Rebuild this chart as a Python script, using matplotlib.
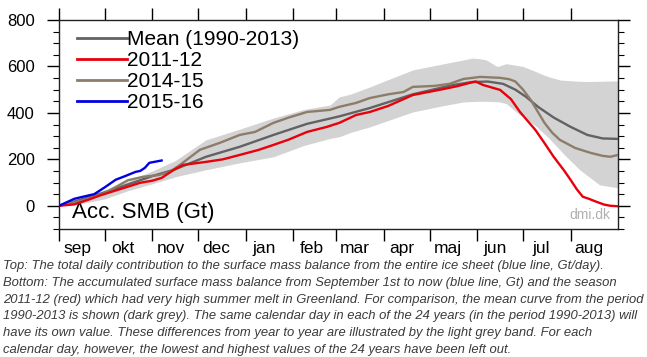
import matplotlib
matplotlib.use("Agg")
import matplotlib.pyplot as plt
from matplotlib.ticker import MultipleLocator

plt.rcParams['font.family'] = ['Liberation Sans', 'DejaVu Sans']

# ---------------- data (day index from Sep 1st, accumulated SMB in Gt) ----------------
months = ["sep", "okt", "nov", "dec", "jan", "feb", "mar", "apr", "maj", "jun", "jul", "aug"]
month_start = [0, 30, 61, 91, 122, 153, 181, 212, 242, 273, 303, 334]

mean_days = [0, 15, 30, 45, 61, 75, 96, 118, 140, 162, 183, 203, 231, 257, 270, 280, 290, 298,
             305, 313, 323, 334, 345, 355, 365]
mean_vals = [0, 28, 58, 92, 128, 155, 211, 254, 305, 353, 385, 421, 480, 520, 533, 535, 525, 500,
             469, 425, 380, 340, 305, 290, 288]

red_days = [0, 10, 20, 27, 40, 53, 61, 67, 75, 81, 96, 107, 118, 130, 140, 150, 162, 175, 183, 194,
            203, 215, 231, 249, 260, 268, 272, 277, 288, 295, 301, 311, 317, 323, 330, 334, 338,
            342, 346, 351, 356, 360, 365]
red_vals = [0, 6, 28, 45, 72, 99, 108, 120, 155, 176, 189, 200, 219, 240, 262, 285, 318, 340, 357, 391,
            404, 430, 477, 500, 515, 529, 535, 520, 499, 460, 404, 327, 270, 211, 150, 112, 72,
            39, 30, 17, 5, 0, -2]

brown_days = [0, 15, 30, 45, 55, 65, 72, 79, 92, 105, 118, 128, 140, 150, 162, 177, 183, 194, 203,
              215, 225, 231, 245, 255, 264, 275, 288, 294, 298, 303, 308, 317, 322, 327, 337, 347,
              355, 360, 365]
brown_vals = [0, 22, 55, 110, 125, 132, 145, 176, 241, 271, 305, 318, 357, 380, 404, 413, 426, 443, 464,
              480, 490, 512, 516, 525, 546, 555, 551, 545, 535, 500, 456, 357, 315, 284, 249, 228,
              215, 211, 219]

blue_days = [0, 5, 10, 15, 23, 30, 37, 44, 50, 53, 56, 59, 63, 67]
blue_vals = [0, 15, 30, 38, 50, 80, 112, 130, 146, 150, 163, 185, 190, 195]

band_days = [0, 15, 30, 45, 61, 76, 96, 118, 140, 160, 177, 183, 190, 203, 231, 250, 264, 270, 275,
             279, 286, 288, 292, 301, 303, 312, 314, 320, 327, 330, 340, 345, 353, 365]
band_upper = [0, 30, 70, 105, 150, 195, 284, 330, 378, 415, 434, 469, 480, 512, 585, 610, 628, 636, 633,
              628, 600, 603, 612, 602, 600, 576, 570, 555, 542, 540, 536, 535, 536, 538]
band_lower = [0, 10, 30, 65, 95, 125, 155, 185, 211, 260, 290, 297, 315, 340, 404, 430, 447, 449, 450,
              450, 448, 447, 440, 391, 385, 340, 327, 290, 241, 220, 155, 130, 90, 77]

labels = ["Mean (1990-2013)", "2011-12", "2014-15", "2015-16"]
colors = ["#626262", "#e8000b", "#8c7d6a", "#0000e0"]
band_color = "#d3d3d3"

# ---------------- figure ----------------
W, H = 647, 357
fig = plt.figure(figsize=(W / 100, H / 100), dpi=100)
ax = fig.add_axes([59 / W, 1 - 229 / H, (618 - 59) / W, (229 - 20) / H])

ax.fill_between(band_days, band_lower, band_upper, color=band_color, lw=0, zorder=1)
l_mean, = ax.plot(mean_days, mean_vals, color=colors[0], lw=1.7, zorder=3)
l_brown, = ax.plot(brown_days, brown_vals, color=colors[2], lw=1.7, zorder=4)
l_red, = ax.plot(red_days, red_vals, color=colors[1], lw=1.7, zorder=5)
l_blue, = ax.plot(blue_days, blue_vals, color=colors[3], lw=1.7, zorder=6)

ax.set_xlim(0, 365)
ax.set_ylim(-100, 800)

# y ticks
ax.set_yticks([0, 200, 400, 600, 800])
ax.yaxis.set_minor_locator(MultipleLocator(50))
ax.tick_params(axis='y', which='major', direction='out', length=8.6, width=1,
               left=True, right=True, labelleft=True, labelright=False,
               labelsize=12, pad=9)
ax.tick_params(axis='y', which='minor', direction='out', length=4.3, width=0.8,
               left=True, right=True)

# x ticks: month boundaries (marks), month names (labels)
ax.set_xticks(month_start, labels=[""] * len(month_start))
ax.set_xticks([m + 12 for m in month_start], labels=months, minor=True)
ax.tick_params(axis='x', which='major', direction='out', length=8.6, width=1,
               top=True, bottom=True)
ax.tick_params(axis='x', which='minor', length=0, labelsize=12.5, pad=8.5,
               top=False, bottom=True)

for s in ax.spines.values():
    s.set_linewidth(1.0)
    s.set_color("#222222")

leg = ax.legend([l_mean, l_red, l_brown, l_blue], labels, loc='upper left',
                bbox_to_anchor=(0.032, 0.952), frameon=False, fontsize=15,
                handlelength=2.4, handletextpad=0.0, labelspacing=0.1,
                borderpad=0, borderaxespad=0)
for h in leg.get_lines():
    h.set_linewidth(2.0)

ax.text(0.023, 0.08, "Acc. SMB (Gt)", transform=ax.transAxes, fontsize=16,
        va='center', ha='left', color='black')
ax.text(0.986, 0.067, "dmi.dk", transform=ax.transAxes, fontsize=10,
        va='center', ha='right', color='#b0b0b0')

caption = [
    "Top: The total daily contribution to the surface mass balance from the entire ice sheet (blue line, Gt/day).",
    "Bottom: The accumulated surface mass balance from September 1st to now (blue line, Gt) and the season",
    "2011-12 (red) which had very high summer melt in Greenland. For comparison, the mean curve from the period",
    "1990-2013 is shown (dark grey). The same calendar day in each of the 24 years (in the period 1990-2013) will",
    "have its own value. These differences from year to year are illustrated by the light grey band. For each",
    "calendar day, however, the lowest and highest values of the 24 years have been left out.",
]
for i, line in enumerate(caption):
    fig.text(3 / W, 1 - (266 + i * 16.8) / H, line, fontsize=9.4, style='italic',
             color='#3a3a3a', va='center', ha='left')

fig.savefig("out.png", dpi=100)
